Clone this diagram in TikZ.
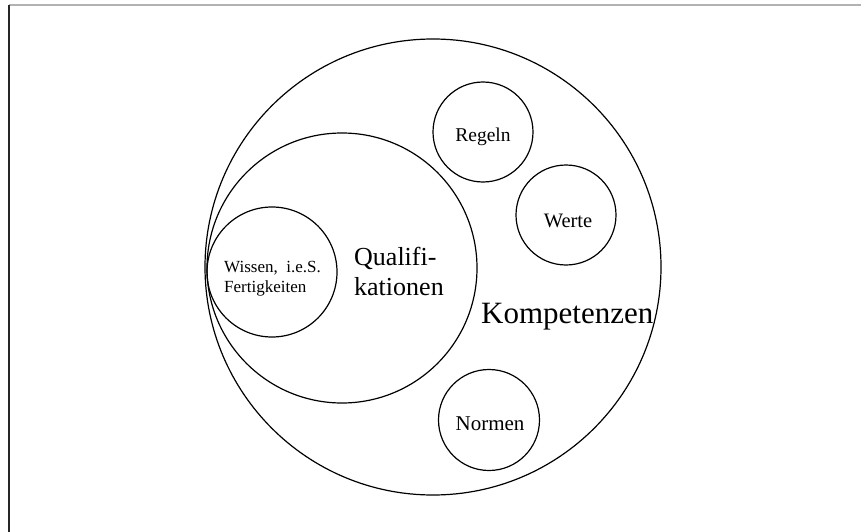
\documentclass[tikz,border=0pt]{standalone}
\usepackage{fontspec}
\setmainfont{Liberation Serif}
\usetikzlibrary{positioning}

\begin{document}
\begin{tikzpicture}[x=1pt,y=-1pt,
    ring/.style={circle,draw,line width=1.2pt,inner sep=0pt},
    lbl/.style={inner sep=0pt,anchor=base},
    lbll/.style={inner sep=0pt,anchor=base west}]
    \useasboundingbox (0,0) rectangle (861,532);
    % frame (top and left edge only)
    \draw[gray!60,line width=1.2pt] (9,5) -- (861,5);
    \draw[black!85,line width=1.2pt] (9,5) -- (9,532);

    % nested circles, all touching at the left
    \node[ring,minimum size=456pt] (kompetenzen) at (433,267) {};
    \node[ring,minimum size=270pt] (qualifikationen) at (342,268) {};
    \node[ring,minimum size=130pt] (wissen) at (272,272) {};

    % small circles
    \node[ring,minimum size=100pt] (regeln) at (483,132) {};
    \node[ring,minimum size=100pt] (werte) at (566,215) {};
    \node[ring,minimum size=101pt] (normen) at (489,420) {};

    % labels
    \node[lbll,font=\fontsize{17}{20}\selectfont] (wissen-1) at (224,272) {Wissen,\ \ i.e.S.};
    \node[lbll,font=\fontsize{17}{20}\selectfont] (wissen-2) at (224,292) {Fertigkeiten};
    \node[lbll,font=\fontsize{26}{30}\selectfont] (quali-1) at (354,265) {Qualifi-};
    \node[lbll,font=\fontsize{26}{30}\selectfont] (quali-2) at (354,295) {kationen};
    \node[lbll,font=\fontsize{31}{36}\selectfont] (kompetenzen-text) at (481,323) {Kompetenzen};
    \node[lbl,font=\fontsize{19.5}{24}\selectfont] (regeln-text) at (483,141) {Regeln};
    \node[lbl,font=\fontsize{20.5}{24}\selectfont] (werte-text) at (568,227) {Werte};
    \node[lbl,font=\fontsize{21}{24}\selectfont] (normen-text) at (490,430) {Normen};
\end{tikzpicture}
\end{document}
